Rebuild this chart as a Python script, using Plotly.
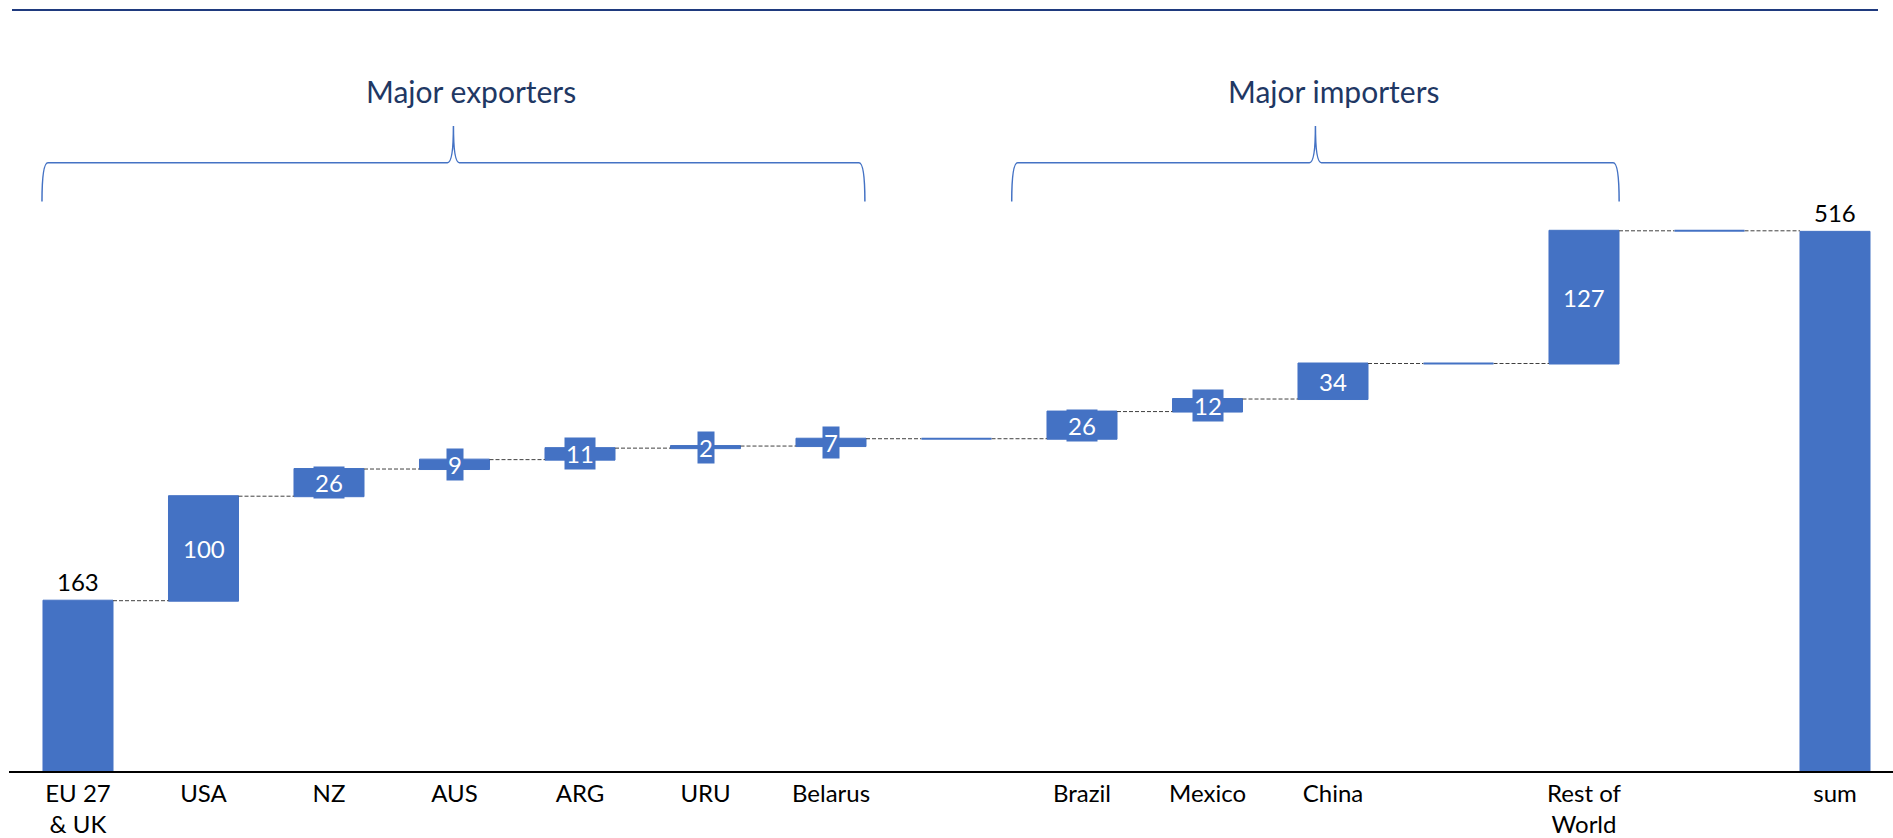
import plotly.graph_objects as go

# ---- data -------------------------------------------------------------
categories = ["EU 27<br>& UK", "USA", "NZ", "AUS", "ARG", "URU", "Belarus", "",
              "Brazil", "Mexico", "China", "", "Rest of<br>World", "", "sum"]
values = [163, 100, 26, 9, 11, 2, 7, 0, 26, 12, 34, 0, 127, 0, 516]
measures = ["absolute", "relative", "relative", "relative", "relative", "relative",
            "relative", "relative", "relative", "relative", "relative", "relative",
            "relative", "relative", "absolute"]
labels = ["163", "100", "26", "9", "11", "2", "7", "",
          "26", "12", "34", "", "127", "", "516"]
groups = [("Major exporters", -0.287, 6.27, 3.13), ("Major importers", 7.44, 12.28, 10.0)]

BLUE = "#4472C4"
NAVY = "#1F3864"
FONT = "Lato"
FS = 24
BAR_W = 0.558

W, H = 1893, 838
ML, MB = 9, 61
PX0, DPX = 78.0, 125.5          # pixel centre of first category, pixels per category
PLOT_H = H - MB
YMAX = PLOT_H / 1.053           # value at top of plot area

x = list(range(len(categories)))
xr = [(ML - PX0) / DPX, (W - PX0) / DPX]


def py(pix):
    """pixel row -> value units"""
    return (PLOT_H - pix) / PLOT_H * YMAX


def px(pix):
    """pixel column -> category units"""
    return (pix - PX0) / DPX


fig = go.Figure(go.Waterfall(
    x=x, y=values, measure=measures,
    width=[BAR_W] * len(x),
    increasing=dict(marker=dict(color=BLUE, line=dict(color=BLUE, width=1))),
    decreasing=dict(marker=dict(color=BLUE, line=dict(color=BLUE, width=1))),
    totals=dict(marker=dict(color=BLUE, line=dict(color=BLUE, width=1))),
    connector=dict(mode="between", line=dict(color="#404040", width=1, dash="4px,2px")),
    textposition="none",
    hoverinfo="skip",
))

# value labels, plus flat markers for the zero-height steps
annotations = []
running = 0
for i, (v, m, lab) in enumerate(zip(values, measures, labels)):
    if m == "absolute":
        running = v
        if lab:
            annotations.append(dict(x=i, y=v, text=lab, showarrow=False, yanchor="bottom",
                                    yshift=3, font=dict(family=FONT, size=FS, color="black")))
    else:
        base = running
        running += v
        if v == 0:
            fig.add_trace(go.Scatter(x=[i - BAR_W / 2, i + BAR_W / 2], y=[base, base],
                                     mode="lines", line=dict(color=BLUE, width=2),
                                     hoverinfo="skip", showlegend=False))
        if lab:
            annotations.append(dict(x=i, y=base + v / 2, text=lab, showarrow=False,
                                    bgcolor=BLUE, borderpad=1,
                                    font=dict(family=FONT, size=FS, color="white")))

# group braces and titles
shapes = []
y_end, y_mid, y_peak = py(203), py(164), py(127)
for title, x0, x1, xt in groups:
    xm = (x0 + x1) / 2
    c = 6 / DPX
    path = (f"M {x0},{y_end} Q {x0},{y_mid} {x0 + c},{y_mid} "
            f"L {xm - c},{y_mid} Q {xm},{y_mid} {xm},{y_peak} "
            f"Q {xm},{y_mid} {xm + c},{y_mid} "
            f"L {x1 - c},{y_mid} Q {x1},{y_mid} {x1},{y_end}")
    shapes.append(dict(type="path", path=path, xref="x", yref="y",
                       line=dict(color=BLUE, width=1.5)))
    annotations.append(dict(x=xt, y=py(92), text=title, showarrow=False,
                            font=dict(family=FONT, size=30, color=NAVY)))

# rule across the top
shapes.append(dict(type="line", xref="x", yref="y", x0=px(12), x1=px(1878),
                   y0=py(10), y1=py(10), line=dict(color="#1F3A7E", width=2)))

fig.update_layout(
    width=W, height=H,
    margin=dict(l=ML, r=0, t=0, b=MB, pad=0),
    paper_bgcolor="white", plot_bgcolor="white",
    showlegend=False,
    font=dict(family=FONT, size=FS, color="black"),
    xaxis=dict(range=xr, tickmode="array", tickvals=x, ticktext=categories,
               showgrid=False, zeroline=False, showline=True, linecolor="black",
               linewidth=2, ticks="", tickfont=dict(family=FONT, size=FS, color="black"),
               fixedrange=True),
    yaxis=dict(range=[0, YMAX], visible=False, showgrid=False, zeroline=False,
               fixedrange=True),
    shapes=shapes,
    annotations=annotations,
)

fig.write_html("out.html", config={"displayModeBar": False})
